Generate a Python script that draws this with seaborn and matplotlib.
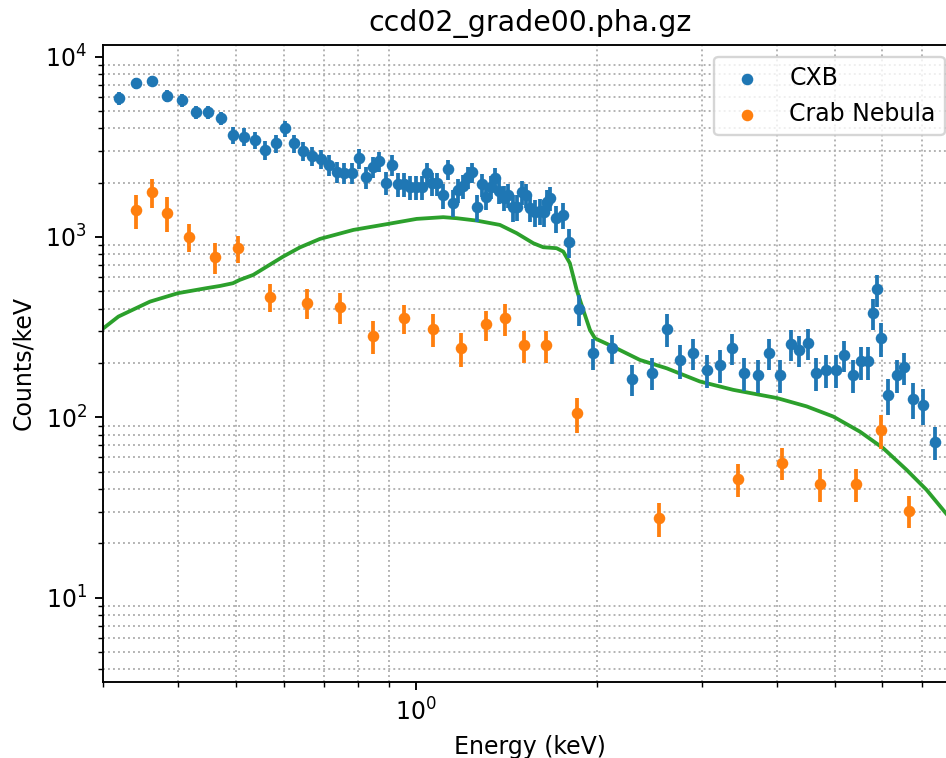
import numpy as np
import seaborn as sns
import matplotlib.pyplot as plt

# CXB spectrum (energy keV, counts/keV, error)
cxb_energy = [0.319, 0.340, 0.362, 0.384, 0.406, 0.428, 0.449, 0.472, 0.494, 0.515,
              0.537, 0.559, 0.582, 0.603, 0.625, 0.647, 0.670, 0.692, 0.715, 0.736,
              0.758, 0.780, 0.802, 0.824, 0.845, 0.867, 0.889, 0.911, 0.932, 0.955,
              0.976, 0.998, 1.021, 1.040, 1.062, 1.082, 1.106, 1.128, 1.152, 1.175,
              1.198, 1.221, 1.241, 1.261, 1.285, 1.307, 1.331, 1.353, 1.375, 1.401,
              1.422, 1.448, 1.474, 1.499, 1.527, 1.551, 1.578, 1.606, 1.631, 1.656,
              1.672, 1.713, 1.760, 1.801, 1.866, 1.975, 2.120, 2.294, 2.477, 2.625,
              2.756, 2.901, 3.054, 3.214, 3.362, 3.526, 3.725, 3.886, 4.049, 4.224,
              4.361, 4.504, 4.651, 4.833, 5.022, 5.188, 5.355, 5.522, 5.686, 5.797,
              5.873, 5.964, 6.141, 6.343, 6.529, 6.745, 7.010, 7.362]
cxb_counts = [5880, 7120, 7330, 6080, 5730, 4920, 4900, 4550, 3680, 3600,
              3450, 3040, 3310, 4010, 3310, 3010, 2810, 2710, 2510, 2290,
              2265, 2265, 2730, 2150, 2455, 2620, 2000, 2510, 1960, 1960,
              1900, 1900, 1900, 2256, 1986, 1986, 1704, 2374, 1550, 1823,
              1919, 2138, 2279, 1467, 1956, 1673, 1901, 2125, 1800, 1646,
              1710, 1458, 1473, 1766, 1710, 1449, 1377, 1394, 1377, 1564,
              1640, 1270, 1325, 935, 397, 228, 242, 163, 177, 309,
              208, 228, 183, 195, 243, 177, 172, 228, 172, 255,
              236, 259, 177, 183, 183, 222, 172, 204, 204, 378,
              513, 274, 133, 172, 189, 126, 117, 73.3]
cxb_err = [520, 480, 500, 470, 450, 420, 420, 400, 400, 400,
           390, 370, 380, 410, 380, 360, 350, 330, 320, 310,
           310, 310, 340, 300, 320, 320, 300, 320, 290, 290,
           290, 290, 290, 310, 290, 290, 270, 310, 260, 280,
           290, 300, 300, 250, 290, 270, 280, 300, 270, 260,
           265, 245, 245, 265, 260, 240, 235, 235, 235, 250,
           255, 220, 225, 170, 78, 45, 44, 32, 35, 64,
           44, 45, 38, 40, 47, 37, 36, 45, 36, 50,
           47, 50, 37, 38, 38, 44, 36, 42, 42, 74,
           103, 58, 30, 36, 38, 28, 26, 15.5]

# Crab Nebula spectrum
crab_energy = [0.340, 0.362, 0.384, 0.417, 0.461, 0.504, 0.570, 0.657, 0.745, 0.845,
               0.954, 1.065, 1.186, 1.305, 1.404, 1.514, 1.644, 1.853, 2.545, 3.449,
               4.080, 4.717, 5.429, 5.970, 6.650]
crab_counts = [1411, 1770, 1359, 1004, 772, 866, 467, 432, 411, 283,
               354, 309, 243, 328, 354, 251, 251, 105, 27.6, 45.7,
               56.1, 42.9, 42.9, 85.1, 30.4]
crab_err = [300, 320, 300, 175, 151, 151, 82, 81, 80, 58,
            65, 64, 52, 62, 71, 50, 50, 23, 5.8, 9.4,
            11.3, 8.8, 8.8, 18, 6.2]

# model curve
model_energy = [0.301, 0.318, 0.359, 0.400, 0.446, 0.470, 0.494, 0.507, 0.534, 0.599,
                0.639, 0.690, 0.785, 0.892, 1.001, 1.109, 1.168, 1.261, 1.379, 1.471,
                1.568, 1.629, 1.715, 1.760, 1.805, 1.853, 1.900, 1.950, 1.988, 2.133,
                2.363, 2.619, 2.976, 3.383, 3.998, 4.486, 4.970, 5.507, 6.024, 6.592,
                7.117, 7.665, 8.0]
model_counts = [314, 362, 438, 488, 520, 535, 554, 578, 616, 778,
                875, 975, 1094, 1177, 1259, 1287, 1270, 1232, 1166, 1049,
                923, 877, 866, 829, 715, 508, 394, 305, 274, 246,
                208, 187, 158, 142, 128, 115, 101, 83.3, 67.4, 51.1,
                39.6, 29.4, 24.8]

fig = plt.figure(figsize=(5.5648, 4.4589), dpi=170)
ax = fig.add_axes([0.1092, 0.1003, 0.9024, 0.8404])

sns.lineplot(x=model_energy, y=model_counts, color='C2', lw=1.6, ax=ax, zorder=2)

ax.errorbar(cxb_energy, cxb_counts, yerr=cxb_err, fmt='none', ecolor='C0', elinewidth=1.6, zorder=3)
ax.errorbar(crab_energy, crab_counts, yerr=crab_err, fmt='none', ecolor='C1', elinewidth=1.6, zorder=3)
sns.scatterplot(x=cxb_energy, y=cxb_counts, color='C0', s=24, linewidth=0, label='CXB', ax=ax, zorder=4)
sns.scatterplot(x=crab_energy, y=crab_counts, color='C1', s=24, linewidth=0, label='Crab Nebula', ax=ax, zorder=4)

ax.set_xscale('log')
ax.set_yscale('log')
ax.set_xlim(0.3, 8.0)
ax.set_ylim(3.41, 11600)
ax.grid(which='minor', linestyle=':')
ax.set_title('ccd02_grade00.pha.gz')
ax.set_xlabel('Energy (keV)')
ax.set_ylabel('Counts/keV')
ax.legend(loc='upper right')

fig.savefig('out.png', dpi=170)
